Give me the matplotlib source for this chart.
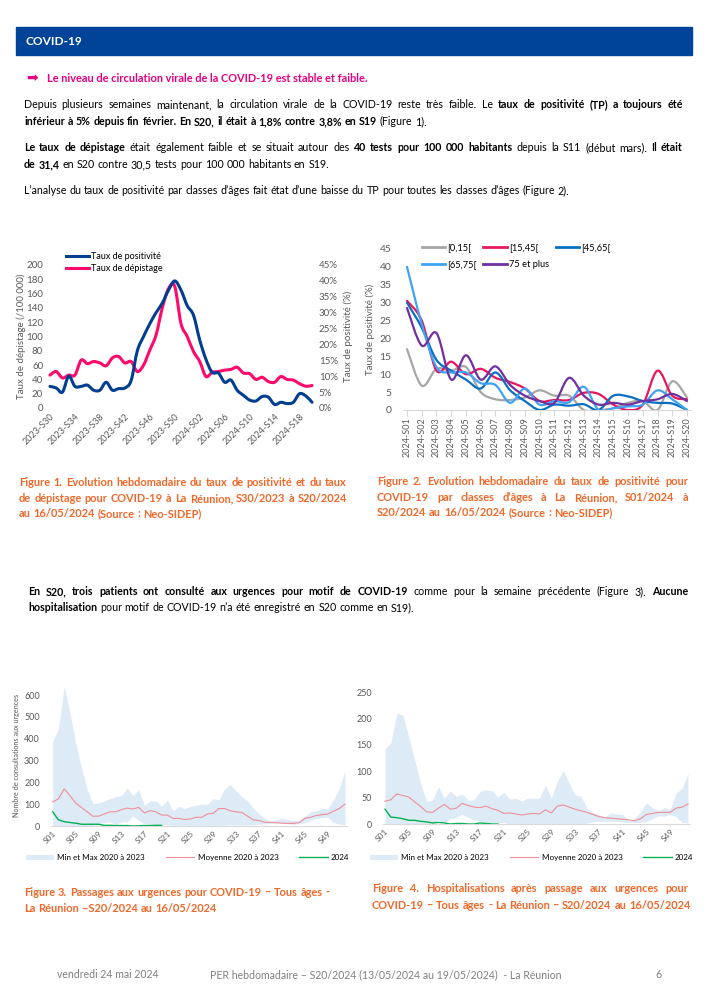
import numpy as np
import matplotlib
matplotlib.use('Agg')
import matplotlib.pyplot as plt
from matplotlib.path import Path
from matplotlib.patches import PathPatch, Rectangle
from matplotlib.lines import Line2D

plt.rcParams['font.family'] = ['Lato', 'DejaVu Sans']

# ---------------- data ----------------
# figure 1 : S30/2023 -> S20/2024
weeks1 = [f'2023-S{w}' for w in range(30, 53)] + [f'2024-S{w:02d}' for w in range(1, 21)]
positivite = [6.8, 6.3, 5.0, 10.0, 6.8, 6.8, 7.2, 5.6, 5.6, 8.1, 5.6, 6.1, 6.3, 8.6,
              18.0, 22.5, 26.5, 30.0, 33.0, 37.1, 40.0, 37.1, 32.2, 29.2, 21.4, 15.3,
              11.2, 11.0, 8.1, 8.8, 5.6, 4.0, 2.5, 2.2, 3.6, 3.4, 1.1, 1.8, 1.4, 1.8,
              4.5, 3.8, 1.8]
depistage = [46, 51, 42, 46, 46, 67, 62, 65, 63, 59, 70, 72, 63, 65, 51, 60, 81, 102,
             140, 167, 170, 118, 100, 79, 65, 44, 50, 51, 53, 54, 57, 49, 48, 40, 43,
             37, 36, 44, 40, 39, 34, 30.5, 31.4]

# figure 2 : S01/2024 -> S20/2024
weeks2 = [f'2024-S{w:02d}' for w in range(1, 21)]
age_labels = ['[0,15[', '[15,45[', '[45,65[', '[65,75[', '75 et plus']
age_0_15 = [17, 6.8, 11.5, 11, 12, 5, 3, 2.8, 3.5, 5.5, 4, 4, 0, 0, 0.5, 2, 2.5, 0, 8, 3.5]
age_15_45 = [30.5, 25, 11, 13.5, 10, 11.5, 9, 7.8, 6, 2.5, 2.8, 2.8, 4.8, 4.5, 1.5, 0, 1.5, 11, 4, 3]
age_45_65 = [30, 23, 14, 11, 8.5, 6, 10.5, 5.5, 2.5, 0, 1.5, 1.2, 1.6, 0, 4, 3.8, 2.5, 2, 1.8, 0]
age_65_75 = [40, 24, 12, 10.5, 10.5, 7.5, 7, 2, 6, 1.5, 2.5, 2.2, 6.5, 0, 0.5, 1, 1.5, 5.5, 3, 0]
age_75p = [28.5, 18, 21.5, 8.5, 15.3, 8.5, 12.2, 7, 4, 2.5, 2, 9, 4, 1.5, 2, 1.5, 2.5, 3, 4.5, 2.5]

# figures 3 & 4 : S01 -> S52
weeks3 = [f'S{w:02d}' for w in range(1, 53)]
urg_max = [386, 447, 640, 520, 380, 270, 170, 103, 105, 115, 125, 135, 140, 175, 140, 165,
           95, 115, 115, 90, 120, 70, 90, 80, 90, 95, 100, 100, 125, 120, 170, 190, 160,
           135, 115, 80, 55, 35, 20, 30, 35, 30, 25, 25, 45, 65, 70, 80, 78, 120, 170, 255]
urg_min = [0, 0, 0, 0, 0, 0, 0, 2, 10, 15, 20, 5, 20, 20, 45, 25, 10, 8, 6, 5, 5, 3, 3, 3,
           3, 3, 3, 3, 3, 3, 3, 5, 5, 5, 5, 5, 8, 10, 12, 15, 12, 10, 8, 10, 15, 25, 35, 38,
           40, 15, 10, 5]
urg_moy = [110, 125, 170, 140, 105, 85, 65, 45, 45, 55, 65, 65, 75, 82, 78, 85, 60, 70, 65,
           50, 50, 35, 35, 30, 32, 40, 40, 55, 58, 80, 80, 70, 65, 62, 45, 28, 25, 17, 17,
           15, 13, 12, 12, 15, 35, 40, 48, 52, 55, 68, 80, 100]
urg_2024 = [65, 28, 20, 16, 13, 8, 8, 8, 8, 3, 3, 2, 2, 2, 0, 1, 2, 2, 3, 3]

hosp_max = [143, 154, 210, 206, 165, 121, 77, 43, 45, 71, 49, 63, 52, 57, 45, 46, 62, 65, 63,
            51, 60, 47, 49, 43, 49, 49, 49, 74, 49, 80, 101, 77, 55, 52, 30, 22, 18, 13, 21,
            19, 18, 6, 11, 22, 40, 31, 25, 31, 28, 58, 68, 96]
hosp_min = [0, 0, 0, 0, 0, 0, 0, 0, 0, 8, 2, 10, 12, 18, 12, 8, 5, 3, 2, 3, 3, 0, 0, 0, 0, 0,
            0, 0, 0, 0, 0, 0, 0, 0, 2, 4, 5, 5, 5, 5, 4, 3, 3, 3, 5, 10, 15, 15, 18, 14, 3, 2]
hosp_moy = [43, 46, 57, 54, 51, 42, 33, 23, 22, 30, 37, 28, 30, 39, 35, 32, 31, 34, 29, 26,
            20, 21, 19, 17, 19, 20, 19, 27, 21, 34, 36, 32, 28, 25, 22, 18, 14, 12, 11, 10, 9,
            8, 6, 10, 18, 20, 22, 22, 22, 30, 32, 38]
hosp_2024 = [28, 13, 12, 10, 7, 7, 5, 4, 2, 3, 2, 0, 1, 1, 0, 0, 2, 1, 0, 0]

# ---------------- page ----------------
W, H = 707, 1000
fig = plt.figure(figsize=(7.07, 10), dpi=100)
renderer = fig.canvas.get_renderer()

BLUE = '#003F8F'
PINK = '#FF0A6C'
ORANGE = '#F0682A'
TICK = '#595959'
BODY = 7.7


def box(x0, y0, x1, y1):
    return [x0 / W, 1 - y1 / H, (x1 - x0) / W, (y1 - y0) / H]


def rich_line(x0, y, runs, size=BODY, color='black', x1=None):
    # draws words one by one (bold or not), justified to x1 if given
    words = []
    for txt, bold in runs:
        for w in txt.split():
            words.append((w, bold))
    arts, widths = [], []
    for w, bold in words:
        t = fig.text(0, 1 - y / H, w, fontsize=size, color=color, va='baseline',
                     fontweight='bold' if bold else 'normal')
        arts.append(t)
        widths.append(t.get_window_extent(renderer).width)
    a = fig.text(0, 0, 'a a', fontsize=size)
    b = fig.text(0, 0, 'aa', fontsize=size)
    space = a.get_window_extent(renderer).width - b.get_window_extent(renderer).width
    a.remove()
    b.remove()
    if x1 is not None and len(words) > 1:
        space = (x1 - x0 - sum(widths)) / (len(words) - 1)
    x = x0
    for t, w in zip(arts, widths):
        t.set_x(x / W)
        x += w + space


def smooth(ax, x, y, color, lw, zorder=3):
    # bezier curve through the points (Excel "smoothed line")
    x = np.asarray(x, float)
    y = np.asarray(y, float)
    verts = [(x[0], y[0])]
    codes = [Path.MOVETO]
    n = len(x)
    for i in range(n - 1):
        xa, ya = (x[i - 1], y[i - 1]) if i > 0 else (x[i], y[i])
        xd, yd = (x[i + 2], y[i + 2]) if i + 2 < n else (x[i + 1], y[i + 1])
        verts.append((x[i] + (x[i + 1] - xa) / 6, y[i] + (y[i + 1] - ya) / 6))
        verts.append((x[i + 1] - (xd - x[i]) / 6, y[i + 1] - (yd - y[i]) / 6))
        verts.append((x[i + 1], y[i + 1]))
        codes += [Path.CURVE4] * 3
    ax.add_patch(PathPatch(Path(verts, codes), fill=False, edgecolor=color, lw=lw,
                           capstyle='round', joinstyle='round', zorder=zorder))


# header
fig.patches.append(Rectangle((16 / W, 1 - 55 / H), 676 / W, 28 / H, color='#00449A',
                             transform=fig.transFigure))
fig.text(26 / W, 1 - 45 / H, 'COVID-19', color='white', fontsize=8.6, fontweight='bold',
         va='baseline')
fig.text(26 / W, 1 - 82 / H, '➡', color='#E6007E', fontsize=10, va='baseline',
         family='DejaVu Sans')
fig.text(47 / W, 1 - 82 / H, 'Le niveau de circulation virale de la COVID-19 est stable et faible.',
         color='#E6007E', fontsize=7.9, fontweight='bold', va='baseline')

rich_line(24, 108, [("Depuis plusieurs semaines maintenant, la circulation virale de la COVID-19 reste très faible. Le", False),
                    ("taux de positivité (TP) a toujours été", True)], x1=683)
rich_line(24, 125, [("inférieur à 5% depuis fin février. En S20, il était à 1,8% contre 3,8% en S19", True),
                    ("(Figure 1).", False)])
rich_line(24, 151, [("Le taux de dépistage", True), ("était également faible et se situait autour des", False),
                    ("40 tests pour 100 000 habitants", True), ("depuis la S11 (début mars).", False),
                    ("Il était", True)], x1=683)
rich_line(24, 168, [("de 31,4", True), ("en S20 contre 30,5 tests pour 100 000 habitants en S19.", False)])
rich_line(24, 194, [("L’analyse du taux de positivité par classes d’âges fait état d’une baisse du TP pour toutes les classes d’âges (Figure 2).", False)])

# ---------------- figure 1 ----------------
x1 = np.arange(len(weeks1))
ax1 = fig.add_axes(box(48.1, 265, 313.9, 408))
ax2 = ax1.twinx()
for a in (ax1, ax2):
    for s in a.spines.values():
        s.set_visible(False)
    a.tick_params(length=0, labelsize=7, labelcolor=TICK)
ax1.set_xlim(-0.3, len(weeks1) - 0.7)
ax1.set_ylim(0, 200)
ax1.set_yticks(range(0, 201, 20))
ax2.set_ylim(0, 45)
ax2.set_yticks(range(0, 46, 5))
ax2.set_yticklabels([f'{v}%' for v in range(0, 46, 5)])
ax1.set_xticks(x1[::4])
ax1.set_xticklabels(weeks1[::4], rotation=45, ha='right', rotation_mode='anchor', fontsize=6.5)
ax1.tick_params(axis='x', pad=3)
smooth(ax1, x1, depistage, PINK, 2.2)
smooth(ax2, x1, positivite, BLUE, 2.2)
ax1.set_ylabel('Taux de dépistage (/100 000)', fontsize=7, color=TICK, labelpad=0)
ax2.set_ylabel('Taux de positivité (%)', fontsize=7, color=TICK, labelpad=4)
ax1.legend([Line2D([], [], color=BLUE, lw=2.2), Line2D([], [], color=PINK, lw=2.2)],
           ['Taux de positivité', 'Taux de dépistage'], loc='upper left',
           bbox_to_anchor=(66 / W, 1 - 252 / H), bbox_transform=fig.transFigure,
           frameon=False, fontsize=6.5, handlelength=2.6, handletextpad=0.2,
           labelspacing=0.35, borderaxespad=0, borderpad=0)

# ---------------- figure 2 ----------------
x2 = np.arange(len(weeks2))
ax3 = fig.add_axes(box(402.6, 249, 691.4, 410))
for s in ('top', 'right', 'left'):
    ax3.spines[s].set_visible(False)
ax3.spines['bottom'].set_color('#D9D9D9')
ax3.set_xlim(-0.3, len(weeks2) - 0.7)
ax3.set_ylim(0, 45)
ax3.set_yticks(range(0, 46, 5))
ax3.set_xticks(x2)
ax3.set_xticklabels(weeks2, rotation=90, fontsize=6.5)
ax3.tick_params(axis='y', length=0, labelsize=7.5, labelcolor=TICK, pad=8)
ax3.tick_params(axis='x', length=4, color='#D9D9D9', labelcolor=TICK, pad=1)
age_colors = ['#A6A6A6', '#E8175D', '#0A6FC2', '#3FA3F5', '#7030A0']
age_series = [age_0_15, age_15_45, age_45_65, age_65_75, age_75p]
for vals, c in zip(age_series, age_colors):
    smooth(ax3, x2, vals, c, 1.6)
ax3.set_ylabel('Taux de positivité (%)', fontsize=7, color=TICK, labelpad=3)
order = [0, 3, 1, 4, 2]
ax3.legend([Line2D([], [], color=age_colors[i], lw=2) for i in order],
           [age_labels[i] for i in order], ncol=3, loc='upper left',
           bbox_to_anchor=(422 / W, 1 - 243 / H), bbox_transform=fig.transFigure,
           frameon=False, fontsize=6.7, handlelength=2.5, handletextpad=0.25,
           columnspacing=0.7, labelspacing=0.85, borderaxespad=0, borderpad=0)

# captions figures 1 & 2
cap = dict(size=7.9, color=ORANGE)
rich_line(19, 486, [("Figure 1. Evolution hebdomadaire du taux de positivité et du taux", True)], x1=347, **cap)
rich_line(19, 502, [("de dépistage pour COVID-19 à La Réunion, S30/2023 à S20/2024", True)], x1=347, **cap)
rich_line(19, 517, [("au 16/05/2024 (Source : Neo-SIDEP)", True)], **cap)
rich_line(377, 485, [("Figure 2. Evolution hebdomadaire du taux de positivité pour", True)], x1=688, **cap)
rich_line(377, 501, [("COVID-19 par classes d’âges à La Réunion, S01/2024 à", True)], x1=688, **cap)
rich_line(377, 516, [("S20/2024 au 16/05/2024 (Source : Neo-SIDEP)", True)], **cap)

rich_line(28, 595, [("En S20, trois patients ont consulté aux urgences pour motif de COVID-19", True),
                    ("comme pour la semaine précédente (Figure 3).", False), ("Aucune", True)], x1=688)
rich_line(28, 611, [("hospitalisation", True), ("pour motif de COVID-19 n’a été enregistré en S20 comme en S19).", False)])


# ---------------- figures 3 & 4 ----------------
def urg_chart(rect, vmax, vmin, vmoy, v2024, ylim, yticks, leg_x):
    ax = fig.add_axes(rect)
    x = np.arange(len(weeks3))
    ax.fill_between(x, vmin, vmax, color='#DDEBF7', lw=0, label='Min et Max 2020 à 2023')
    ax.plot(x, vmoy, color='#EE8E98', lw=0.8, label='Moyenne 2020 à 2023')
    ax.plot(x[:len(v2024)], v2024, color='#00B050', lw=1.0, label='2024')
    for s in ('top', 'right', 'left'):
        ax.spines[s].set_visible(False)
    ax.spines['bottom'].set_color('#D9D9D9')
    ax.set_xlim(-0.3, len(weeks3) - 0.7)
    ax.set_ylim(*ylim)
    ax.set_yticks(yticks)
    ax.set_xticks(x[::4])
    ax.set_xticklabels(weeks3[::4], rotation=45, ha='right', rotation_mode='anchor', fontsize=6)
    ax.tick_params(axis='y', length=0, labelsize=6.5, labelcolor=TICK, pad=8)
    ax.tick_params(axis='x', length=0, labelcolor=TICK, pad=3)
    ax.legend(loc='upper left', bbox_to_anchor=(leg_x / W, 1 - 854 / H),
              bbox_transform=fig.transFigure, ncol=3, frameon=False, fontsize=5.8,
              handlelength=3.5, handleheight=0.6, handletextpad=0.4, columnspacing=2.6,
              borderaxespad=0, borderpad=0)
    return ax


ax4 = urg_chart(box(51, 684.1, 346.7, 826), urg_max, urg_min, urg_moy, urg_2024,
                (0, 650), range(0, 601, 100), 26)
ax4.set_ylabel('Nombre de consultations aux urgences', fontsize=5.2, color=TICK, labelpad=3)
ax5 = urg_chart(box(383.2, 692, 689.8, 824), hosp_max, hosp_min, hosp_moy, hosp_2024,
                (0, 250), range(0, 251, 50), 370)

rich_line(24, 896, [("Figure 3. Passages aux urgences pour COVID-19 – Tous âges -", True)], **cap)
rich_line(24, 912, [("La Réunion –S20/2024 au 16/05/2024", True)], **cap)
rich_line(372, 892, [("Figure 4. Hospitalisations après passage aux urgences pour", True)], x1=688, **cap)
rich_line(372, 909, [("COVID-19 – Tous âges - La Réunion – S20/2024 au 16/05/2024", True)], **cap)

# footer
fig.text(57 / W, 1 - 978 / H, 'vendredi 24 mai 2024', fontsize=7.6, color='#808080', va='baseline')
fig.text(210 / W, 1 - 978 / H, 'PER hebdomadaire – S20/2024 (13/05/2024 au 19/05/2024)  - La Réunion',
         fontsize=7.6, color='#808080', va='baseline')
fig.text(655 / W, 1 - 978 / H, '6', fontsize=7.6, color='#808080', va='baseline')

fig.savefig('out.png', dpi=100)
